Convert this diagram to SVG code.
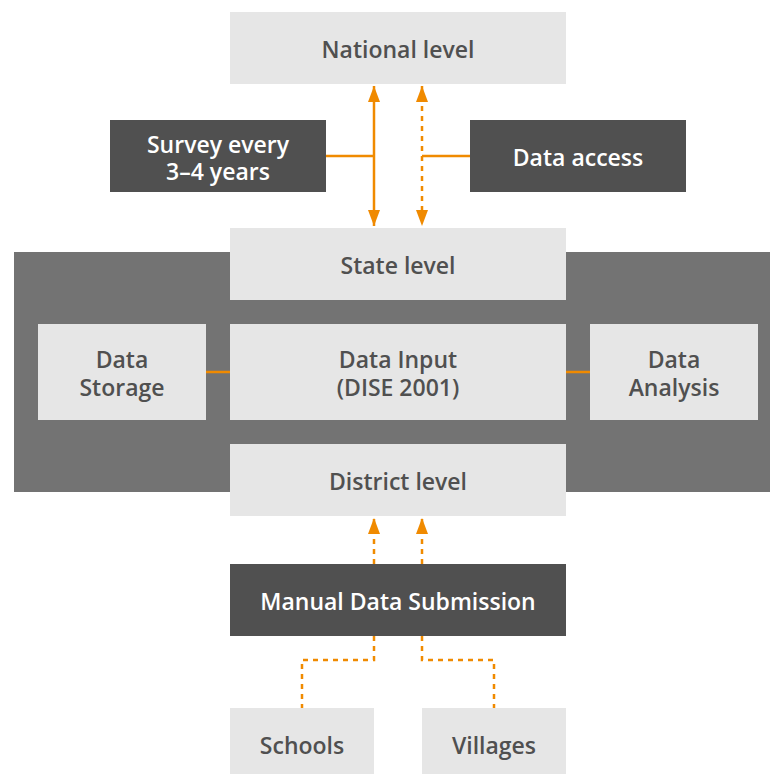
<svg xmlns="http://www.w3.org/2000/svg" width="770" height="774" viewBox="0 0 770 774">
<style>
.light{fill:#e6e6e6}
.dark{fill:#505050}
.t{font-family:"Open Sans","Liberation Sans",sans-serif;font-weight:600;font-size:23px;text-anchor:middle;dominant-baseline:central}
.tl{fill:#505050}
.td{fill:#ffffff}
.c{stroke:#f08a00;stroke-width:2.5;fill:none}
.d{stroke-dasharray:5 5}
</style>
<defs>
<marker id="ah" viewBox="0 0 16 12" refX="16" refY="6" markerWidth="16" markerHeight="12" markerUnits="userSpaceOnUse" orient="auto-start-reverse">
<path d="M0,0 L16,6 L0,12 Z" fill="#f08a00"/>
</marker>
</defs>
<rect x="14" y="252" width="756" height="240" fill="#737373"/>
<g id="connectors">
<line class="c" x1="374" y1="86" x2="374" y2="226" marker-start="url(#ah)" marker-end="url(#ah)"/>
<line class="c d" x1="422" y1="86" x2="422" y2="226" marker-start="url(#ah)" marker-end="url(#ah)"/>
<line class="c" x1="326" y1="156" x2="374" y2="156"/>
<line class="c" x1="422" y1="156" x2="470" y2="156"/>
<line class="c" x1="206" y1="372" x2="230" y2="372"/>
<line class="c" x1="566" y1="372" x2="590" y2="372"/>
<line class="c d" x1="374" y1="564" x2="374" y2="518" marker-end="url(#ah)"/>
<line class="c d" x1="422" y1="564" x2="422" y2="518" marker-end="url(#ah)"/>
<polyline class="c d" points="374,636 374,660 302,660 302,708"/>
<polyline class="c d" points="422,636 422,660 494,660 494,708"/>
</g>
<g id="national"><rect class="light" x="230" y="12" width="336" height="72"/><text class="t tl" x="398" y="49">National level</text></g>
<g id="survey"><rect class="dark" x="110" y="120" width="216" height="72"/><text class="t td" x="218" y="144">Survey every</text><text class="t td" x="218" y="171">3–4 years</text></g>
<g id="access"><rect class="dark" x="470" y="120" width="216" height="72"/><text class="t td" x="578" y="157">Data access</text></g>
<g id="state"><rect class="light" x="230" y="228" width="336" height="72"/><text class="t tl" x="398" y="265">State level</text></g>
<g id="storage"><rect class="light" x="38" y="324" width="168" height="96"/><text class="t tl" x="122" y="359">Data</text><text class="t tl" x="122" y="387">Storage</text></g>
<g id="input"><rect class="light" x="230" y="324" width="336" height="96"/><text class="t tl" x="398" y="359">Data Input</text><text class="t tl" x="398" y="387">(DISE 2001)</text></g>
<g id="analysis"><rect class="light" x="590" y="324" width="168" height="96"/><text class="t tl" x="674" y="359">Data</text><text class="t tl" x="674" y="387">Analysis</text></g>
<g id="district"><rect class="light" x="230" y="444" width="336" height="72"/><text class="t tl" x="398" y="481">District level</text></g>
<g id="manual"><rect class="dark" x="230" y="564" width="336" height="72"/><text class="t td" x="398" y="601">Manual Data Submission</text></g>
<g id="schools"><rect class="light" x="230" y="708" width="144" height="66"/><text class="t tl" x="302" y="745">Schools</text></g>
<g id="villages"><rect class="light" x="422" y="708" width="144" height="66"/><text class="t tl" x="494" y="745">Villages</text></g>
</svg>
